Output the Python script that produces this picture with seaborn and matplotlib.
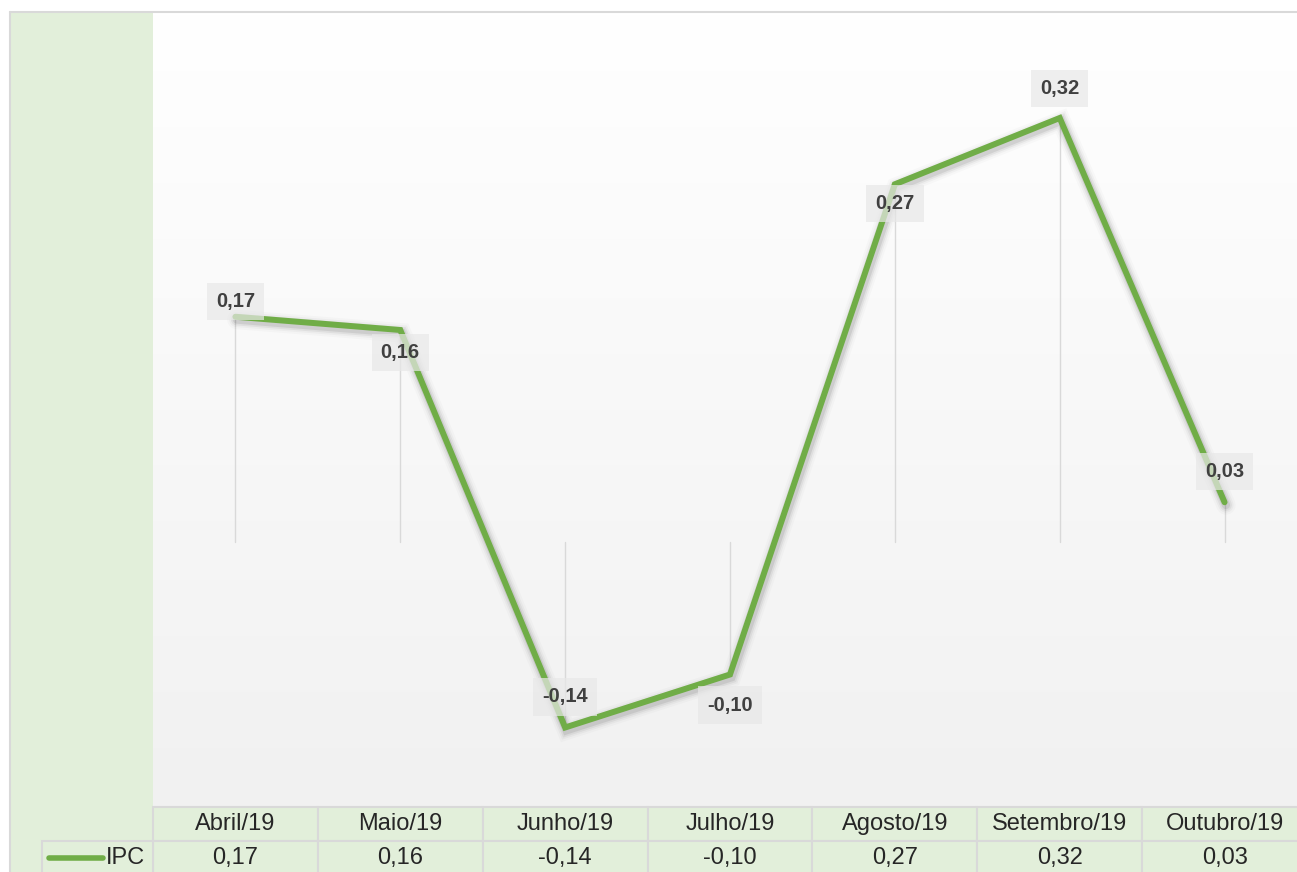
import matplotlib
matplotlib.use("Agg")
import matplotlib.pyplot as plt
import matplotlib.patheffects as pe
from matplotlib.patches import Rectangle
import numpy as np
import pandas as pd
import seaborn as sns

# dados
meses = ["Abril/19", "Maio/19", "Junho/19", "Julho/19", "Agosto/19", "Setembro/19", "Outubro/19"]
ipc = [0.17, 0.16, -0.14, -0.10, 0.27, 0.32, 0.03]
serie = "IPC"

# deslocamento vertical dos rótulos (pontos)
label_dy = [11, -16, 22, -22, -14, 21, 22]

verde = "#70ad47"
verde_claro = "#e2efda"
borda = "#d9d9d9"

sns.set_theme(style="white")
plt.rcParams["font.family"] = ["Liberation Sans", "DejaVu Sans"]

W, H = 1297, 872
fig = plt.figure(figsize=(W / 100, H / 100), dpi=100)

def fx(px):
    return px / W

def fy(py):
    return 1 - py / H

# faixa verde à esquerda + borda externa
fig.add_artist(Rectangle((fx(10), 0), fx(143), fy(12),
                         transform=fig.transFigure, facecolor=verde_claro, edgecolor="none", zorder=0))
fig.add_artist(plt.Line2D([fx(10), 1], [fy(12), fy(12)], transform=fig.transFigure, color=borda, lw=1.5))
fig.add_artist(plt.Line2D([fx(10), fx(10)], [fy(12), 0], transform=fig.transFigure, color=borda, lw=1.5))

ax = fig.add_axes([fx(153), fy(807), fx(1307) - fx(153), fy(12) - fy(807)])
ax.set_xlim(-0.5, len(meses) - 0.5)
ax.set_ylim(-0.2, 0.4)

# fundo em gradiente
grad = np.linspace(0, 1, 256).reshape(-1, 1)
ax.imshow(grad, extent=(-0.5, len(meses) - 0.5, -0.2, 0.4), aspect="auto",
          cmap=matplotlib.colors.LinearSegmentedColormap.from_list("g", ["#f1f1f1", "#ffffff"]),
          origin="lower", zorder=0)

df = pd.DataFrame({"mes": np.arange(len(meses)), "ipc": ipc})

# linhas de projeção
for i, v in enumerate(ipc):
    ax.plot([i, i], [0, v], color="#d9d9d9", lw=1, zorder=1)

sombra = [pe.SimpleLineShadow(offset=(1, -2), shadow_color="#000000", alpha=a, linewidth=w)
          for w, a in [(14, 0.02), (11, 0.03), (8.5, 0.05), (6, 0.08)]]
sns.lineplot(data=df, x="mes", y="ipc", ax=ax, color=verde, lw=4.3, zorder=3,
             path_effects=sombra + [pe.Normal()])
for line in ax.lines[-1:]:
    line.set_solid_joinstyle("miter")
    line.set_solid_capstyle("round")

for i, (v, dy) in enumerate(zip(ipc, label_dy)):
    ax.annotate(f"{v:.2f}".replace(".", ","), (i, v), xytext=(0, dy), textcoords="offset points",
                ha="center", va="center", fontsize=14.5, fontweight="bold", color="#404040", zorder=4,
                bbox=dict(boxstyle="square,pad=0.45", facecolor="#e8e8e8", edgecolor="none", alpha=0.7))

ax.set_xlabel("")
ax.set_ylabel("")
ax.set_xticks([])
ax.set_yticks([])
for s in ax.spines.values():
    s.set_visible(False)

# tabela de dados
row_h = fy(807) - fy(841)
col_w = (fx(1307) - fx(153)) / len(meses)
for i, (m, v) in enumerate(zip(meses, ipc)):
    x0 = fx(153) + i * col_w
    for r, txt in enumerate([m, f"{v:.2f}".replace(".", ",")]):
        y0 = fy(841) - r * row_h
        fig.add_artist(Rectangle((x0, y0), col_w, row_h, transform=fig.transFigure,
                                 facecolor=verde_claro, edgecolor=borda, lw=1.5))
        fig.text(x0 + col_w / 2, y0 + row_h / 2, txt, ha="center", va="center",
                 fontsize=17, color="#262626")

# célula da legenda
y0 = fy(841) - row_h
fig.add_artist(Rectangle((fx(42), y0), fx(111), row_h, transform=fig.transFigure,
                         facecolor=verde_claro, edgecolor=borda, lw=1.5))
fig.add_artist(plt.Line2D([fx(49), fx(103)], [y0 + row_h / 2] * 2, transform=fig.transFigure,
                          color=verde, lw=4, solid_capstyle="round"))
fig.text(fx(106), y0 + row_h / 2, serie, ha="left", va="center", fontsize=17, color="#262626")

fig.savefig("out.png", dpi=100)
